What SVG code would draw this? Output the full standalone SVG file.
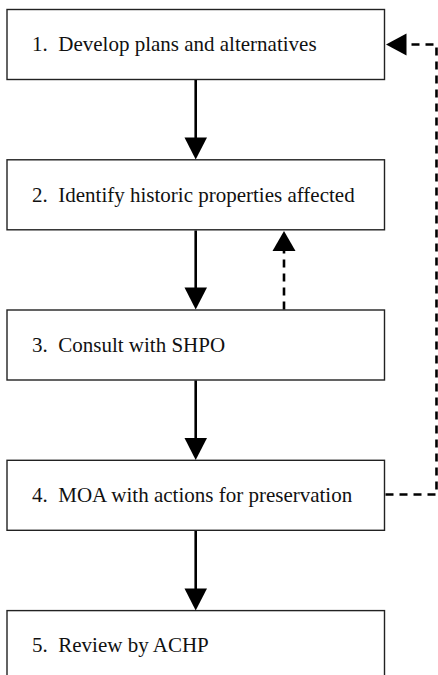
<svg xmlns="http://www.w3.org/2000/svg" width="438" height="675" viewBox="0 0 438 675">
  <style>
    .box { fill: #ffffff; stroke: #222222; stroke-width: 1.4; }
    .label { font-family: "Liberation Serif", "Times New Roman", serif; font-size: 21px; fill: #111111; }
    .flow { fill: none; stroke: #000000; stroke-width: 2.6; }
    .back { fill: none; stroke: #000000; stroke-width: 2.6; stroke-dasharray: 8 6; }
    .head { fill: #000000; stroke: none; }
  </style>

  <rect width="438" height="675" fill="#ffffff"/>

  <!-- process steps -->
  <g id="step1">
    <rect class="box" x="7" y="9.5" width="377.5" height="70"/>
    <text class="label" x="32" y="51" xml:space="preserve">1.  Develop plans and alternatives</text>
  </g>
  <g id="step2">
    <rect class="box" x="7" y="159.8" width="377.5" height="70"/>
    <text class="label" x="32" y="201.5" xml:space="preserve">2.  Identify historic properties affected</text>
  </g>
  <g id="step3">
    <rect class="box" x="7" y="310" width="377.5" height="70"/>
    <text class="label" x="32" y="352" xml:space="preserve">3.  Consult with SHPO</text>
  </g>
  <g id="step4">
    <rect class="box" x="7" y="460.3" width="377.5" height="70"/>
    <text class="label" x="32" y="502" xml:space="preserve">4.  MOA with actions for preservation</text>
  </g>
  <g id="step5">
    <rect class="box" x="7" y="610.6" width="377.5" height="70"/>
    <text class="label" x="32" y="652" xml:space="preserve">5.  Review by ACHP</text>
  </g>

  <!-- connectors -->
  <g id="connectors">
    <!-- forward flow, solid -->
    <line class="flow" x1="195.7" y1="80" x2="195.7" y2="139"/>
    <polygon class="head" points="184.5,137.5 207,137.5 195.7,159.5"/>

    <line class="flow" x1="195.7" y1="230.5" x2="195.7" y2="289"/>
    <polygon class="head" points="184.5,287.5 207,287.5 195.7,309.5"/>

    <line class="flow" x1="195.7" y1="380.5" x2="195.7" y2="439.5"/>
    <polygon class="head" points="184.5,438 207,438 195.7,460"/>

    <line class="flow" x1="195.7" y1="531" x2="195.7" y2="590"/>
    <polygon class="head" points="184.5,588.5 207,588.5 195.7,610.5"/>

    <!-- feedback from SHPO consultation back to step 2 -->
    <line class="back" x1="284" y1="309.5" x2="284" y2="249"/>
    <polygon class="head" points="272.5,251 295.5,251 284,231"/>

    <!-- feedback from MOA back to step 1 -->
    <polyline class="back" points="385.5,494.5 436.5,494.5 436.5,44.5 405,44.5"/>
    <polygon class="head" points="406.5,33.5 406.5,55.5 386,44.5"/>
  </g>
</svg>
